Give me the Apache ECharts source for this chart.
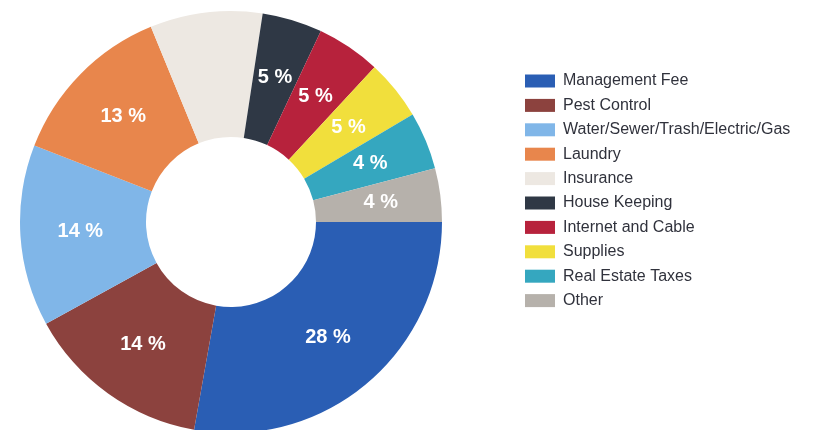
<!DOCTYPE html>
<html>
<head>
<meta charset="utf-8">
<script src="https://cdn.jsdelivr.net/npm/echarts@6/dist/echarts.min.js"></script>
<style>
  html, body { margin: 0; padding: 0; background: #ffffff; }
  #chart { width: 816px; height: 430px; }
</style>
</head>
<body>
<div id="chart"></div>
<script>
// Expense categories and their share of total operating costs (percent)
const categories = [
  'Management Fee',
  'Pest Control',
  'Water/Sewer/Trash/Electric/Gas',
  'Laundry',
  'Insurance',
  'House Keeping',
  'Internet and Cable',
  'Supplies',
  'Real Estate Taxes',
  'Other'
];
const shares = [27.8, 14.2, 13.9, 12.9, 8.6, 4.6, 4.9, 4.6, 4.4, 4.1];
const sliceColors = [
  '#2a5eb4', '#8c423e', '#80b6e8', '#e8864c', '#ede8e2',
  '#2f3845', '#b7223c', '#f1df3c', '#35a7bf', '#b6b1ab'
];
// Slices whose value label is left off (light slice)
const hiddenLabels = ['Insurance'];

const FONT = "'Liberation Sans', Arial, sans-serif";

const data = categories.map((name, i) => ({
  name,
  value: shares[i],
  itemStyle: { color: sliceColors[i] },
  label: { show: hiddenLabels.indexOf(name) === -1 }
}));

const chart = echarts.init(document.getElementById('chart'), null, { renderer: 'canvas' });
chart.setOption({
  animation: false,
  backgroundColor: '#ffffff',
  legend: {
    orient: 'vertical',
    left: 520,
    top: 68,
    itemWidth: 30,
    itemHeight: 13,
    itemGap: 8.4,
    icon: 'rect',
    data: categories,
    textStyle: {
      fontFamily: FONT,
      fontSize: 16,
      lineHeight: 16,
      color: '#30323c',
      padding: [0, 0, 0, 3]
    }
  },
  series: [{
    type: 'pie',
    center: [231, 222],
    radius: [85, 211],
    startAngle: 0,
    clockwise: true,
    avoidLabelOverlap: false,
    label: {
      show: true,
      position: 'inside',
      color: '#ffffff',
      fontFamily: FONT,
      fontWeight: 'bold',
      fontSize: 20,
      formatter: p => Math.round(p.percent) + ' %'
    },
    labelLine: { show: false },
    emphasis: { disabled: true },
    data
  }]
});
</script>
</body>
</html>
